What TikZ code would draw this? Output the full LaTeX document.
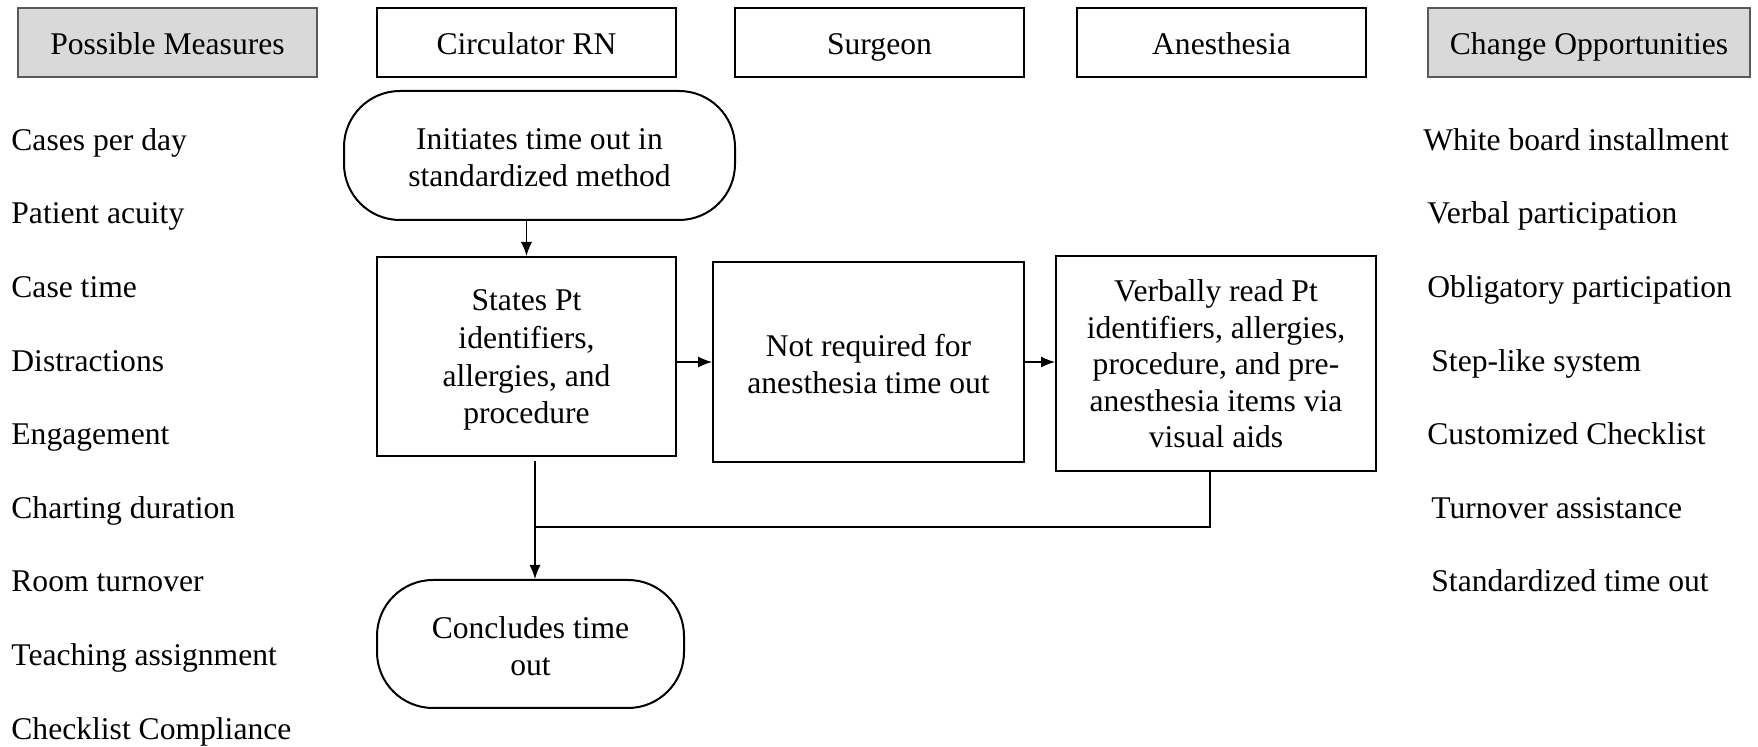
\documentclass[tikz,border=0pt]{standalone}
\usepackage{fontspec}
\setmainfont{Liberation Serif}
\usetikzlibrary{arrows.meta}
\newcommand{\firstln}[1][13.4pt]{\rule{0pt}{#1}}
\begin{document}
\begin{tikzpicture}[x=0.5pt,y=-0.5pt,
  txt/.style={font=\fontsize{15.8pt}{18.5pt}\selectfont, inner sep=0pt},
  hdr/.style={txt, draw=black, line width=1pt, minimum height=34.5pt, text height=13.5pt, text depth=1pt},
  ghdr/.style={hdr, draw=black!65, fill=black!15},
  box/.style={txt, draw=black, line width=1pt, align=center},
  term/.style={box, rounded corners=28pt},
  lab/.style={txt, anchor=west, text height=12.1pt, text depth=2.4pt},
  conn/.style={line width=0.6pt},
  arr/.style={conn, -{Latex[length=7pt,width=5.5pt]}}]
\useasboundingbox (0,0) rectangle (1758,747);
% headers
\node[ghdr, minimum width=149.5pt] (pm) at (167.5,42.5) {Possible Measures};
\node[hdr, minimum width=149.5pt] (circ) at (526.5,42.5) {Circulator RN};
\node[hdr, minimum width=144.5pt] (surg) at (879.5,42.5) {Surgeon};
\node[hdr, minimum width=144.5pt] (anes) at (1221.5,42.5) {Anesthesia};
\node[ghdr, minimum width=161pt] (co) at (1589,42.5) {Change Opportunities};
% flow
\node[term, minimum width=195.5pt, minimum height=64.5pt] (init) at (539.5,155.5) {\firstln[12.8pt]Initiates time out in\\standardized method};
\node[box, minimum width=149.5pt, minimum height=99.5pt, font=\fontsize{15.8pt}{18.8pt}\selectfont] (states) at (526.5,356.5) {\firstln[14.2pt]States Pt\\identifiers,\\allergies, and\\procedure};
\node[box, minimum width=155.5pt, minimum height=100pt] (notreq) at (868.5,362) {\firstln Not required for\\anesthesia time out};
\node[box, minimum width=160pt, minimum height=107.5pt, font=\fontsize{15.8pt}{18.2pt}\selectfont] (verbal) at (1216,363.5) {\firstln[11.4pt]Verbally read Pt\\identifiers, allergies,\\procedure, and pre-\\anesthesia items via\\visual aids};
\node[term, minimum width=153.5pt, minimum height=64pt] (concl) at (530.5,644) {\firstln Concludes time\\out};
\coordinate (j) at (535,527);
\coordinate (vj) at (1210,527);
\draw[arr] (states.north |- init.south) -- (states.north);
\draw[arr] (notreq.west -| states.east) -- (notreq.west);
\draw[arr] (notreq.east) -- (notreq.east -| verbal.west);
\draw[arr] ([yshift=-2pt]j |- states.south) -- (j |- concl.north);
\draw[conn] (vj |- verbal.south) -- (vj) -- (j);
% left labels
\node[lab] (m1) at (11,141) {Cases per day};
\node[lab] (m2) at (11,214) {Patient acuity};
\node[lab] (m3) at (11,288) {Case time};
\node[lab] (m4) at (11,362) {Distractions};
\node[lab] (m5) at (11,435) {Engagement};
\node[lab] (m6) at (11,509) {Charting duration};
\node[lab] (m7) at (11,582) {Room turnover};
\node[lab] (m8) at (11,656) {Teaching assignment};
\node[lab] (m9) at (11,730) {Checklist Compliance};
% right labels
\node[lab] (r1) at (1423,141) {White board installment};
\node[lab] (r2) at (1427,214) {Verbal participation};
\node[lab] (r3) at (1427,288) {Obligatory participation};
\node[lab] (r4) at (1431,362) {Step-like system};
\node[lab] (r5) at (1427,435) {Customized Checklist};
\node[lab] (r6) at (1431,509) {Turnover assistance};
\node[lab] (r7) at (1431,582) {Standardized time out};
\end{tikzpicture}
\end{document}
